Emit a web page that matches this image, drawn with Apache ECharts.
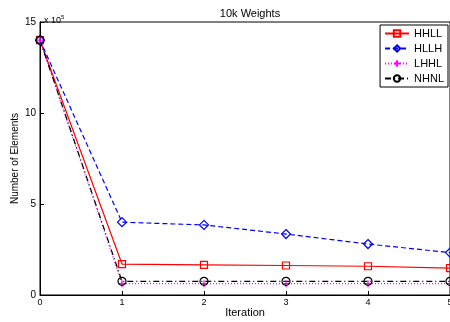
<!DOCTYPE html>
<html>
<head>
<meta charset="utf-8">
<script src="https://cdn.jsdelivr.net/npm/echarts@6/dist/echarts.min.js"></script>
<style>
  html, body { margin: 0; padding: 0; background: #fff; }
  #chart { width: 450px; height: 322px; }
</style>
</head>
<body>
<div id="chart"></div>
<script>
// values in units of 1e5 elements
const iterations = [0, 1, 2, 3, 4, 5];
const hhll = [14, 1.70, 1.65, 1.62, 1.58, 1.48];
const hllh = [14, 4.00, 3.85, 3.35, 2.80, 2.33];
const lhhl = [14, 0.62, 0.62, 0.62, 0.62, 0.62];
const nhnl = [14, 0.75, 0.75, 0.75, 0.75, 0.75];

const font = 'Liberation Sans, Arial, sans-serif';
const plusPath = 'path://M5,0 L5,10 M0,5 L10,5';

function pairs(vals) {
  return vals.map((v, i) => [iterations[i], v]);
}

function makeSeries(name, vals, color, lineType, symbol, size) {
  return {
    name: name,
    type: 'line',
    data: pairs(vals),
    symbol: symbol,
    symbolSize: size,
    showAllSymbol: true,
    clip: false,
    lineStyle: { color: color, width: 1.2, type: lineType },
    itemStyle: { color: 'rgba(0,0,0,0)', borderColor: color, borderWidth: 1.2 },
    emphasis: { disabled: true },
    animation: false
  };
}

const chart = echarts.init(document.getElementById('chart'));
chart.setOption({
  backgroundColor: '#fff',
  animation: false,
  title: [
    { text: '10k Weights', left: 245, top: 3, textAlign: 'center',
      textStyle: { fontFamily: font, fontSize: 11, fontWeight: 'normal', color: '#000' } },
    { text: 'x 10{s|5}', left: 39, top: 9,
      textStyle: { fontFamily: font, fontSize: 9, fontWeight: 'normal', color: '#000',
        rich: { s: { fontSize: 6, verticalAlign: 'top', padding: [0, 0, 7, 0] } } } }
  ],
  legend: {
    right: 2, top: 25, orient: 'vertical',
    itemWidth: 24, itemHeight: 8, itemGap: 4,
    padding: [3, 4, 3, 4],
    borderColor: '#000', borderWidth: 1, backgroundColor: '#fff',
    textStyle: { fontFamily: font, fontSize: 11, color: '#000' },
    data: ['HHLL', 'HLLH', 'LHHL', 'NHNL']
  },
  grid: { left: 40, right: 0, top: 22, bottom: 27, outerBoundsMode: 'none', containLabel: false,
    show: true, borderColor: '#000', borderWidth: 1 },
  xAxis: {
    type: 'value', min: 0, max: 5, interval: 1,
    name: 'Iteration', nameLocation: 'middle', nameGap: 12, nameMoveOverlap: false,
    nameTextStyle: { fontFamily: font, fontSize: 11, color: '#000' },
    axisLine: { lineStyle: { color: '#000' } },
    axisTick: { inside: true, length: 4, lineStyle: { color: '#000' } },
    axisLabel: { fontFamily: font, fontSize: 9, color: '#000', margin: 3 },
    splitLine: { show: false }
  },
  yAxis: {
    type: 'value', min: 0, max: 15, interval: 5,
    name: 'Number of Elements', nameLocation: 'middle', nameGap: 20, nameMoveOverlap: false,
    nameTextStyle: { fontFamily: font, fontSize: 10, color: '#000' },
    axisLine: { show: true, lineStyle: { color: '#000' } },
    axisTick: { show: true, inside: true, length: 4, lineStyle: { color: '#000' } },
    axisLabel: { fontFamily: font, fontSize: 10, color: '#000', margin: 4 },
    splitLine: { show: false }
  },
  series: [
    makeSeries('HHLL', hhll, '#ff0000', 'solid', 'rect', 7),
    makeSeries('HLLH', hllh, '#0000ff', [5, 3], 'diamond', 9),
    makeSeries('LHHL', lhhl, '#ff00ff', [1, 2], plusPath, 7),
    makeSeries('NHNL', nhnl, '#000000', [6, 3, 1, 3], 'circle', 8)
  ]
});
</script>
</body>
</html>
